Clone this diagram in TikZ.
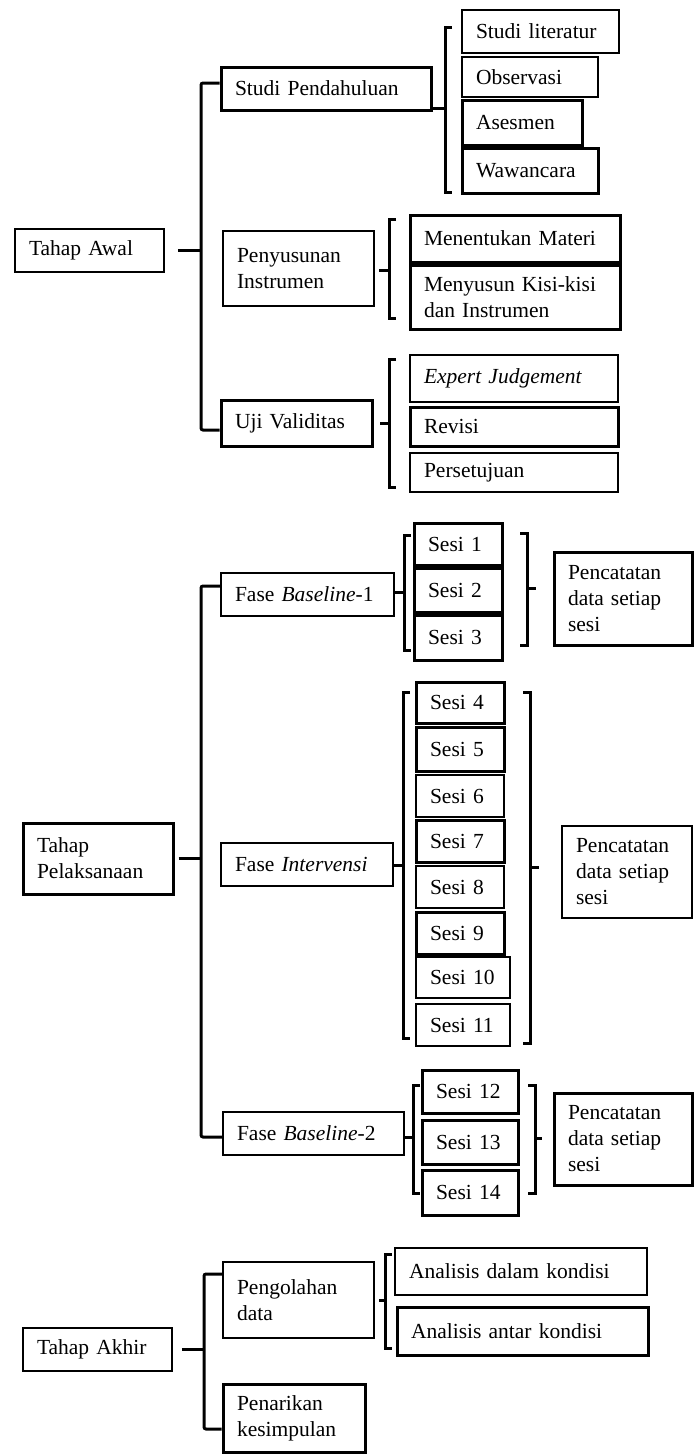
\documentclass[tikz,border=0pt]{standalone}
\usepackage{fontspec}
\setmainfont{Liberation Serif}
\tikzset{
  box/.style={draw, rectangle, inner xsep=0pt, inner ysep=0pt, align=left,
    font=\fontsize{21.5}{26}\selectfont,
    execute at begin node={\hyphenpenalty=10000\exhyphenpenalty=10000}},
  bthin/.style={line width=1.5pt},
  bmid/.style={line width=2.2pt},
  bthick/.style={line width=3pt},
  conn/.style={line width=3pt},
  brk/.style={line width=3pt}
}
% box: name, x1, y1, x2, y2, style, text
\newcommand{\bx}[7]{\node[box,#6,minimum width={#4pt-#2pt},minimum height={#5pt-#3pt},text width={#4pt-#2pt-28pt}] (#1) at ({(#2+#4)/2},{(#3+#5)/2}) {#7};}
% left bracket: name, x, ytop, ybot
\newcommand{\lbrk}[4]{\coordinate (#1t) at (#2,#3); \coordinate (#1b) at (#2,#4);
  \draw[brk] ([xshift=7pt]#1t) -- (#1t) -- (#1b) -- ([xshift=7pt]#1b);}
\newcommand{\rbrk}[4]{\coordinate (#1t) at (#2,#3); \coordinate (#1b) at (#2,#4);
  \draw[brk] ([xshift=-7pt]#1t) -- (#1t) -- (#1b) -- ([xshift=-7pt]#1b);}
\begin{document}
\begin{tikzpicture}[x=1pt,y=-1pt]
\useasboundingbox (0,0) rectangle (694,1454);
\fill[white] (0,0) rectangle (694,1454);

% ---------- Tahap Awal ----------
\bx{ta}{15}{229}{164}{272}{bthin}{Tahap~Awal}
\bx{sp}{221}{67}{431}{110}{bthick}{Studi~Pendahuluan}
\bx{pi}{223}{231}{374}{306}{bthin}{Penyusunan\\Instrumen}
\bx{uv}{221}{400}{372}{446}{bthick}{Uji~Validitas}
\bx{sl}{462}{10}{619}{53}{bmid}{Studi~literatur}
\bx{ob}{462}{57}{598}{97}{bmid}{Observasi}
\bx{as}{462}{100}{582}{145}{bthick}{Asesmen}
\bx{ww}{462}{148}{598}{193}{bthick}{Wawancara}
\bx{mm}{410}{215}{620}{262}{bthick}{Menentukan~Materi}
\bx{mk}{410}{265}{620}{329}{bthick}{Menyusun~\mbox{Kisi-kisi}\\dan~Instrumen}
\bx{ej}{410}{355}{618}{402}{bmid}{\textit{Expert~Judgement}}
\bx{rv}{410}{407}{618}{446}{bthick}{Revisi}
\bx{ps}{410}{453}{618}{492}{bmid}{Persetujuan}

\coordinate (t1) at (201,248);
\draw[conn,rounded corners=2pt] ([yshift=5.5pt]sp.west) -| (t1) |- ([yshift=-7pt]uv.west);
\draw[conn] ([xshift=13pt]ta.east) -- (ta.east -| t1);

\lbrk{b1}{445}{27}{192}
\coordinate (b1m) at (445,108);
\draw[conn] (b1m) -- (b1m -| sp.east);
\lbrk{b2}{389}{219}{318}
\coordinate (b2m) at (389,270);
\draw[conn] (b2m) -- ([xshift=4pt]b2m -| pi.east);
\lbrk{b3}{389}{359}{487}
\coordinate (b3m) at (389,423);
\draw[conn] (b3m) -- ([xshift=6pt]b3m -| uv.east);

% ---------- Tahap Pelaksanaan ----------
\bx{tp}{23}{823}{173}{894}{bthick}{Tahap\\Pelaksanaan}
\bx{fa}{221}{573}{394}{616}{bmid}{Fase~\textit{Baseline}-1}
\bx{fb}{221}{843}{393}{886}{bmid}{Fase~\textit{Intervensi}}
\bx{fc}{223}{1112}{404}{1155}{bmid}{Fase~\textit{Baseline}-2}

\bx{s1}{414}{523}{502}{565}{bthick}{Sesi~1}
\bx{s2}{414}{568}{502}{612}{bthick}{Sesi~2}
\bx{s3}{414}{615}{502}{660}{bthick}{Sesi~3}

\bx{s4}{416}{682}{504}{723}{bthick}{Sesi~4}
\bx{s5}{416}{727}{504}{771}{bthick}{Sesi~5}
\bx{s6}{416}{775}{504}{817}{bmid}{Sesi~6}
\bx{s7}{416}{820}{504}{862}{bthick}{Sesi~7}
\bx{s8}{416}{866}{504}{908}{bmid}{Sesi~8}
\bx{s9}{416}{912}{504}{954}{bthick}{Sesi~9}
\bx{s10}{416}{957}{510}{998}{bmid}{Sesi~10}
\bx{s11}{416}{1004}{510}{1046}{bthin}{Sesi~11}

\bx{s12}{422}{1070}{518}{1113}{bthick}{Sesi~12}
\bx{s13}{422}{1120}{518}{1164}{bthick}{Sesi~13}
\bx{s14}{422}{1170}{518}{1215}{bthick}{Sesi~14}

\bx{pc1}{554}{552}{692}{645}{bthick}{Pencatatan\\data~setiap\\sesi}
\bx{pc2}{562}{826}{692}{918}{bthin}{Pencatatan\\data~setiap\\sesi}
\bx{pc3}{554}{1093}{692}{1185}{bthick}{Pencatatan\\data~setiap\\sesi}

\coordinate (t2) at (201,862);
\draw[conn,rounded corners=2pt] ([yshift=8.5pt]fa.west) -| (t2) |- ([yshift=-3.5pt]fc.west);
\draw[conn] ([xshift=4pt]tp.east) -- (tp.east -| t2);

\lbrk{c1}{404}{535}{650}
\coordinate (c1m) at (404,592);
\draw[conn] (c1m) -- (c1m -| fa.east);
\rbrk{d1}{527}{533}{645}
\coordinate (d1m) at (527,588);
\coordinate (d1e) at (536,588);
\draw[conn] (d1m) -- (d1e);

\lbrk{c2}{403}{692}{1038}
\coordinate (c2m) at (403,865);
\draw[conn] (c2m) -- (c2m -| fb.east);
\rbrk{d2}{530}{692}{1043}
\coordinate (d2m) at (530,867);
\coordinate (d2e) at (539,867);
\draw[conn] (d2m) -- (d2e);

\lbrk{c3}{413}{1085}{1193}
\coordinate (c3m) at (413,1137);
\draw[conn] (c3m) -- (c3m -| fc.east);
\rbrk{d3}{535}{1085}{1193}
\coordinate (d3m) at (535,1138);
\coordinate (d3e) at (542,1138);
\draw[conn] (d3m) -- (d3e);

% ---------- Tahap Akhir ----------
\bx{tk}{23}{1328}{172}{1371}{bthin}{Tahap~Akhir}
\bx{pd}{223}{1262}{374}{1338}{bmid}{Pengolahan\\data}
\bx{pk}{223}{1384}{365}{1452}{bthick}{Penarikan\\kesimpulan}
\bx{ad}{395}{1248}{647}{1295}{bmid}{Analisis~dalam~kondisi}
\bx{aa}{397}{1307}{648}{1355}{bthick}{Analisis~antar~kondisi}

\coordinate (t3) at (204,1347);
\draw[conn,rounded corners=2pt] ([yshift=26pt]pd.west) -| (t3) |- ([yshift=-11pt]pk.west);
\draw[conn] ([xshift=9pt]tk.east) -- (tk.east -| t3);

\lbrk{b4}{385}{1254}{1348}
\coordinate (b4m) at (385,1300);
\draw[conn] (b4m) -- ([xshift=4pt]b4m -| pd.east);
\end{tikzpicture}
\end{document}
